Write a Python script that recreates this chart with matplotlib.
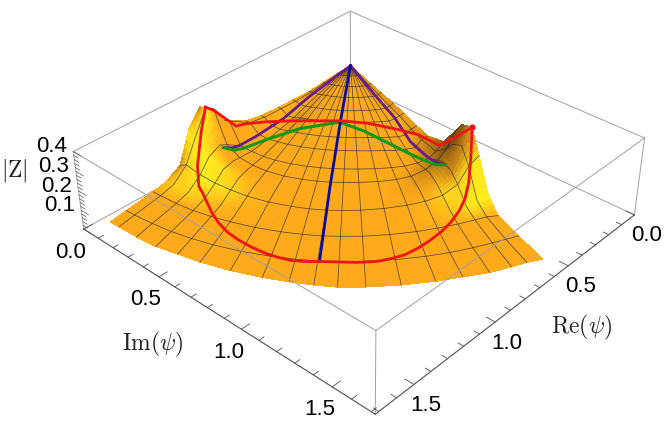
import matplotlib
matplotlib.use("Agg")
import matplotlib.pyplot as plt
import numpy as np
from mpl_toolkits.mplot3d import proj3d

plt.rcParams['mathtext.fontset'] = 'cm'
plt.rcParams['font.family'] = ['Liberation Sans', 'DejaVu Sans']

AXIS_MAX = 1.72
Z_MAX = 0.4
BOX_Z = 0.236

# polar grid of the surface, radius in |psi| and angle in degrees
radius = [0, .103, .206, .31, .43, .533, .654, .757, .894, .99, 1.04, 1.118, 1.187, 1.273, 1.359, 1.522, 1.66]
angle = [2, 4, 8, 12, 16, 20, 25, 30, 34, 37.6, 41, 45, 50, 55, 59, 63, 66.5, 69, 71.5]
edge_radius = [1.617, 1.617, 1.625, 1.634, 1.634, 1.643, 1.651, 1.66, 1.668, 1.677, 1.686, 1.686, 1.686, 1.686,
               1.686, 1.694, 1.694, 1.694, 1.703]
# rows of the radius without a mesh line
no_mesh = [10, 11, 13]

# |Z| on the grid, one list per angle
z_a02 = [.095, .095, .09, .085, .09, .095, .105, .125, .19, .30, .33, .25, .09, .05, .035, .02, .01]
z_a04 = [.095, .094, .09, .085, .088, .095, .105, .125, .20, .31, .34, .22, .11, .05, .035, .02, .01]
z_a08 = [.095, .094, .09, .088, .082, .07, .075, .08, .09, .145, .17, .15, .09, .045, .032, .02, .01]
z_a12 = [.095, .094, .09, .086, .08, .07, .07, .072, .08, .10, .11, .11, .075, .04, .03, .018, .01]
z_a16 = [.095, .094, .092, .09, .085, .08, .075, .073, .072, .08, .085, .085, .065, .04, .03, .018, .01]
z_a20 = [.095, .094, .093, .091, .088, .084, .078, .073, .068, .068, .066, .064, .055, .04, .03, .017, .01]
z_a25 = [.095, .095, .094, .092, .09, .087, .08, .074, .066, .06, .056, .054, .048, .038, .029, .016, .009]
z_a30 = [.095, .095, .094, .093, .091, .089, .081, .075, .065, .057, .053, .05, .044, .035, .028, .016, .008]
z_a34 = [.095, .095, .094, .093, .092, .09, .082, .075, .065, .056, .051, .047, .041, .033, .027, .015, .008]
z_a38 = [.095, .095, .094, .093, .092, .09, .082, .075, .065, .055, .05, .046, .04, .032, .026, .015, .008]
z_a41 = [.095, .095, .094, .093, .092, .09, .082, .075, .065, .056, .051, .047, .041, .033, .027, .015, .008]
z_a45 = [.095, .095, .094, .093, .091, .089, .081, .074, .064, .056, .052, .048, .042, .034, .027, .016, .008]
z_a50 = [.095, .095, .094, .092, .09, .087, .078, .07, .061, .055, .052, .05, .045, .036, .028, .016, .008]
z_a55 = [.095, .095, .093, .091, .088, .084, .072, .064, .058, .056, .056, .054, .05, .04, .029, .016, .008]
z_a59 = [.095, .094, .092, .09, .086, .08, .066, .057, .056, .062, .066, .066, .056, .043, .03, .016, .008]
z_a63 = [.095, .094, .091, .088, .084, .076, .06, .052, .06, .085, .095, .09, .07, .045, .03, .016, .008]
z_a66 = [.095, .094, .09, .087, .085, .083, .06, .05, .072, .12, .14, .14, .11, .05, .03, .016, .008]
z_a69 = [.095, .094, .092, .09, .09, .092, .085, .085, .10, .17, .22, .26, .19, .06, .028, .014, .007]
z_a71 = [.095, .096, .097, .098, .10, .10, .095, .095, .14, .25, .31, .34, .23, .08, .015, .009, .004]

red_re = [1.035, 1.085, 1.150, 1.195, 1.217, 1.247, 1.283, 1.312, 1.330, 1.335, 1.333, 1.323, 1.305, 1.280, 1.245,
          1.204, 1.155, 1.100, 1.037, .985, .929, .855, .776, .700, .623, .540, .457,
          .416, .389, .356, .311, .272, .256, .287, .343, .413, .491, .568, .671, .764, .826, .900, .975, 1.035]
red_im = [.069, .086, .120, .172, .225, .284, .355, .428, .503, .578, .655, .731, .790, .843, .893,
          .937, .995, 1.060, 1.118, 1.148, 1.175, 1.187, 1.190, 1.187, 1.176, 1.154, 1.121,
          1.106, 1.090, 1.063, .932, .815, .671, .569, .426, .318, .234, .172, .074, .034, .034, .043, .052, .069]
red_z = [.34, .24, .105, .04, .034, .03, .027, .025, .022, .02, .02, .02, .018, .015, .015,
         .015, .015, .015, .015, .016, .018, .019, .02, .022, .025, .03, .04,
         .10, .22, .34, .21, .10, .09, .09, .09, .09, .09, .10, .10, .115, .13, .21, .29, .34]

green_re = [1.008, .95, .893, .746, .590, .424, .399, .382, .371, .378, .389, .405, .425]
green_im = [.142, .147, .151, .174, .217, .323, .458, .609, .725, .79, .845, .91, .977]
green_z = [.145, .105, .09, .085, .085, .09, .085, .07, .06, .068, .08, .10, .14]

purple_l_re = [0, .351, .561, .769, .894, .95, 1.008]
purple_l_im = [0, .049, .079, .108, .126, .134, .142]
purple_l_z = [.095, .088, .07, .08, .095, .112, .145]
purple_r_re = [0, .115, .210, .282, .356, .39, .425]
purple_r_im = [0, .265, .482, .647, .817, .895, .977]
purple_r_z = [.095, .085, .085, .053, .075, .10, .14]

blue_re = [0, .413, .817, 1.204]
blue_im = [0, .318, .630, .937]
blue_z = [.095, .09, .05, .015]

xy_ticks = [0.0, 0.5, 1.0, 1.5]
z_ticks = [0.1, 0.2, 0.3, 0.4]

Z = np.array([z_a02, z_a04, z_a08, z_a12, z_a16, z_a20, z_a25, z_a30, z_a34, z_a38, z_a41, z_a45, z_a50, z_a55,
              z_a59, z_a63, z_a66, z_a69, z_a71]).T
R = np.outer(radius, np.ones(len(angle)))
R[-1] = edge_radius
T = np.radians(np.outer(np.ones(len(radius)), angle))
X = R * np.cos(T)
Y = R * np.sin(T)


def vertex_colors(X, Y, Z):
    # colour at each grid vertex from two lights, flat parts stay orange
    P = np.dstack([X / AXIS_MAX, Y / AXIS_MAX, Z / Z_MAX * BOX_Z])
    n = np.cross(np.gradient(P, axis=1), np.gradient(P, axis=0))
    n /= np.linalg.norm(n, axis=2, keepdims=True) + 1e-12
    n *= np.sign(n[:, :, 2:3] + 1e-9)
    bright = n @ np.array([.5, .5, .707]) - .78
    dark = .30 - n @ np.array([.05, .92, .30])
    orange = np.array([1.0, .665, .10])
    yellow = np.array([1.0, .93, .12])
    brown = np.array([.42, .27, .05])
    t_y = np.clip(bright / .18, 0, 1)[:, :, None]
    t_d = np.clip(dark / 0.8, 0, 1)[:, :, None]
    c = orange * (1 - t_y) + yellow * t_y
    return c * (1 - t_d) + brown * t_d


def subdivide(A, k=4):
    # only for a smooth fill: every table cell is split in k*k facets
    n0, n1 = A.shape[:2]
    u = np.linspace(0, n0 - 1, (n0 - 1) * k + 1)
    v = np.linspace(0, n1 - 1, (n1 - 1) * k + 1)
    i = np.minimum(u.astype(int), n0 - 2)
    j = np.minimum(v.astype(int), n1 - 2)
    fu = (u - i).reshape((-1, 1) + (1,) * (A.ndim - 2))
    fv = (v - j).reshape((1, -1) + (1,) * (A.ndim - 2))
    return (A[i][:, j] * (1 - fu) * (1 - fv) + A[i + 1][:, j] * fu * (1 - fv)
            + A[i][:, j + 1] * (1 - fu) * fv + A[i + 1][:, j + 1] * fu * fv)


fig = plt.figure(figsize=(6.64, 4.35), dpi=100)
# the 3d axes stay square, so they are larger than the figure
ax = fig.add_axes([20 / 664, -91 / 435, 1, 664 / 435], projection='3d', computed_zorder=False)
ax.set_proj_type('persp', focal_length=0.4)
ax.view_init(elev=34.5, azim=42.5)
ax.set_xlim(0, AXIS_MAX, view_margin=0)
ax.set_ylim(0, AXIS_MAX, view_margin=0)
ax.set_zlim(0, Z_MAX, view_margin=0)
ax.set_box_aspect((1, 1, BOX_Z), zoom=0.832)
ax.set_axis_off()

box_c = '#a0a0a0'
axis_c = '#505050'
m, h = AXIS_MAX, Z_MAX
# edges behind the surface
for p, q in [((0, 0, 0), (m, 0, 0)), ((0, 0, 0), (0, m, 0)), ((0, 0, 0), (0, 0, h)),
             ((0, 0, h), (m, 0, h)), ((0, 0, h), (0, m, h))]:
    ax.plot(*zip(p, q), color=box_c, lw=0.7, zorder=1)

colors = subdivide(vertex_colors(X, Y, Z))
colors = np.dstack([colors, np.ones(colors.shape[:2])])
ax.plot_surface(subdivide(X), subdivide(Y), subdivide(Z), facecolors=colors, rstride=1, cstride=1, shade=False,
                linewidth=0, antialiased=False, zorder=2)

for i in range(1, len(radius)):
    if i in no_mesh or i == len(radius) - 1:
        continue
    ax.plot(X[i], Y[i], Z[i], color='#303030', lw=0.55, alpha=0.8, zorder=3)
for j in range(len(angle)):
    if j == 0 or j == len(angle) - 1:
        continue
    ax.plot(X[:, j], Y[:, j], Z[:, j], color='#303030', lw=0.55, alpha=0.8, zorder=3)

ax.plot(purple_l_re, purple_l_im, purple_l_z, color='#6a1a8c', lw=2.0, zorder=4)
ax.plot(purple_r_re, purple_r_im, purple_r_z, color='#6a1a8c', lw=2.0, zorder=4)
ax.plot(green_re, green_im, green_z, color='#0a9a14', lw=2.2, zorder=5)
ax.plot(blue_re, blue_im, blue_z, color='#0a0aa0', lw=2.0, zorder=5)
ax.plot(red_re, red_im, red_z, color='#ee1418', lw=2.0, zorder=6)
ax.scatter([.356], [1.063], [.34], color='#ee1418', s=12, zorder=7, depthshade=False)

# edges in front of the surface
for p, q in [((m, 0, h), (m, m, h)), ((0, m, h), (m, m, h)), ((m, 0, 0), (m, 0, h)), ((0, m, 0), (0, m, h)),
             ((m, m, 0), (m, m, h))]:
    ax.plot(*zip(p, q), color=box_c, lw=0.7, zorder=8)
ax.plot([m, m], [0, m], [0, 0], color=axis_c, lw=0.8, zorder=8)
ax.plot([0, m], [m, m], [0, 0], color=axis_c, lw=0.8, zorder=8)

for v in np.arange(0, m, 0.1):
    size = 0.045 if round(v * 10) % 5 == 0 else 0.028
    ax.plot([m, m - size], [v, v], [0, 0], color=axis_c, lw=0.6, zorder=8)
    ax.plot([v, v], [m, m - size], [0, 0], color=axis_c, lw=0.6, zorder=8)
for v in np.arange(0, Z_MAX + .001, 0.02):
    size = 0.05 if round(v * 100) % 10 == 0 else 0.03
    ax.plot([m, m], [0, size], [v, v], color=axis_c, lw=0.5, zorder=8)


def label(text, x, y, z, dx, dy):
    px, py, _ = proj3d.proj_transform(x, y, z, ax.get_proj())
    ax.annotate(text, (px, py), xytext=(dx, -dy), textcoords='offset pixels', ha='center', va='center',
                fontsize=16, color='black')


for v in xy_ticks:
    label(f'{v:.1f}', m, v, 0, -13, 22)
    label(f'{v:.1f}', v, m, 0, 12, 20)
for v in z_ticks:
    label(f'{v:.1f}', m, 0, v, -22, -6)

fig.text(153 / 664, 1 - 344 / 435, r'$\mathrm{Im}(\psi)$', ha='center', va='center', fontsize=17, color='#222222')
fig.text(582 / 664, 1 - 327 / 435, r'$\mathrm{Re}(\psi)$', ha='center', va='center', fontsize=17, color='#222222')
fig.text(14 / 664, 1 - 171 / 435, r'$|\mathrm{Z}|$', ha='center', va='center', fontsize=17, color='#222222')

plt.savefig('out.png', dpi=100)
